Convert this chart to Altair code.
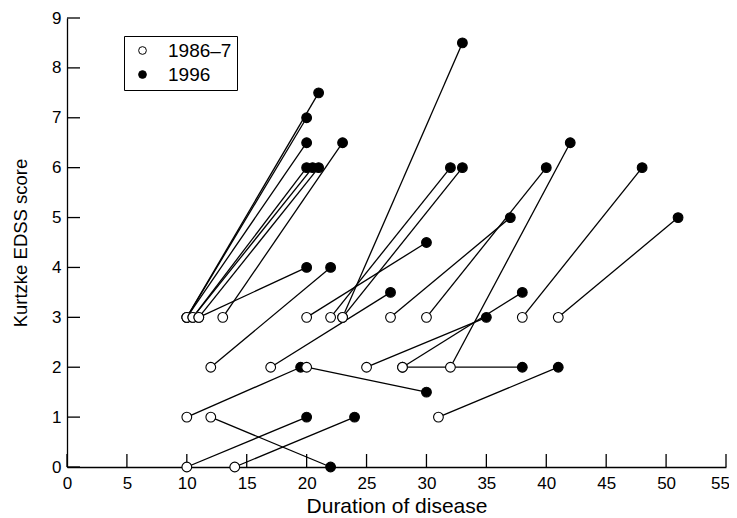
import altair as alt
import pandas as pd

# 1986-7 (start) and 1996 (end) observations for each patient
start_x = [10, 10, 10, 10.5, 10.5, 11, 11, 13, 20, 22, 23, 23, 27, 30, 38, 41,
           12, 17, 20, 25, 28, 28, 32, 10, 12, 31, 10, 14]
start_y = [3, 3, 3, 3, 3, 3, 3, 3, 3, 3, 3, 3, 3, 3, 3, 3,
           2, 2, 2, 2, 2, 2, 2, 1, 1, 1, 0, 0]
end_x = [20, 21, 20, 20, 20.5, 21, 20, 23, 30, 32, 33, 33, 37, 40, 48, 51,
         22, 27, 30, 35, 38, 38, 42, 19.5, 22, 41, 20, 24]
end_y = [7, 7.5, 6.5, 6, 6, 6, 4, 6.5, 4.5, 6, 6, 8.5, 5, 6, 6, 5,
         4, 3.5, 1.5, 3, 3.5, 2, 6.5, 2, 0, 2, 1, 1]

series = ["1986–7", "1996"]
x_ticks = [0, 5, 10, 15, 20, 25, 30, 35, 40, 45, 50, 55]
y_ticks = [0, 1, 2, 3, 4, 5, 6, 7, 8, 9]

FONT = "Liberation Sans"
W, H = 659, 449
TICK = 13

pairs = pd.DataFrame({"x0": start_x, "y0": start_y, "x1": end_x, "y1": end_y})
points = pd.DataFrame({
    "x": end_x + start_x,
    "y": end_y + start_y,
    "period": [series[1]] * len(end_x) + [series[0]] * len(start_x),
})
xt_df = pd.DataFrame({"t": x_ticks})
yt_df = pd.DataFrame({"t": y_ticks})

xscale = alt.Scale(domain=[0, 55], nice=False, zero=False)
yscale = alt.Scale(domain=[0, 9], nice=False, zero=False)

xaxis = alt.Axis(values=x_ticks, ticks=False, labelPadding=8, labelFontSize=17,
                 labelFont=FONT, labelColor="black", title="Duration of disease",
                 titleFont=FONT, titleFontSize=21, titleFontWeight="normal",
                 titleColor="black", titlePadding=4, grid=False,
                 domainColor="black", domainWidth=1.3, labelFlush=False,
                 labelOffset={"condition": {"test": "datum.value === 55",
                                            "value": -6}, "value": 0})
yaxis = alt.Axis(values=y_ticks, ticks=False, labelPadding=6, labelFontSize=17,
                 labelFont=FONT, labelColor="black",
                 title="Kurtzke EDSS score", titleFont=FONT,
                 titleFontSize=18.5, titleFontWeight="normal",
                 titleColor="black", titlePadding=21, grid=False,
                 domainColor="black", domainWidth=1.3, labelFlush=False)

lines = alt.Chart(pairs).mark_rule(color="black", strokeWidth=1.3).encode(
    x=alt.X("x0:Q", scale=xscale, axis=xaxis),
    y=alt.Y("y0:Q", scale=yscale, axis=yaxis),
    x2="x1:Q",
    y2="y1:Q",
)

# inward-pointing tick marks
xticks = alt.Chart(xt_df).mark_rule(color="black", strokeWidth=1.3).encode(
    x=alt.X("t:Q", scale=xscale),
    y=alt.value(H),
    y2=alt.value(H - TICK),
)
yticks = alt.Chart(yt_df).mark_rule(color="black", strokeWidth=1.3).encode(
    y=alt.Y("t:Q", scale=yscale),
    x=alt.value(0),
    x2=alt.value(TICK),
)

pts = alt.Chart(points).mark_point(shape="circle", filled=True, size=95,
                                   stroke="black", strokeWidth=1.1,
                                   opacity=1).encode(
    x=alt.X("x:Q", scale=xscale),
    y=alt.Y("y:Q", scale=yscale),
    fill=alt.Fill("period:N",
                  scale=alt.Scale(domain=series, range=["white", "black"]),
                  sort=series,
                  legend=alt.Legend(title=None, orient="none", legendX=57,
                                    legendY=18, strokeColor="black",
                                    padding=5, labelFont=FONT,
                                    labelFontSize=19, labelColor="black",
                                    labelExpr="datum.label + ' '",
                                    symbolType="circle", symbolSize=60,
                                    symbolOffset=4,
                                    symbolStrokeColor="black",
                                    symbolStrokeWidth=1, rowPadding=4,
                                    labelOffset=16)),
)

chart = alt.layer(xticks, yticks, lines, pts).properties(
    width=W, height=H,
    autosize=alt.AutoSizeParams(type="none"),
    padding={"left": 59, "top": 10, "right": 3, "bottom": 51},
).configure_view(stroke=None)

chart.save("out.html", embed_options={"renderer": "svg", "actions": False})
